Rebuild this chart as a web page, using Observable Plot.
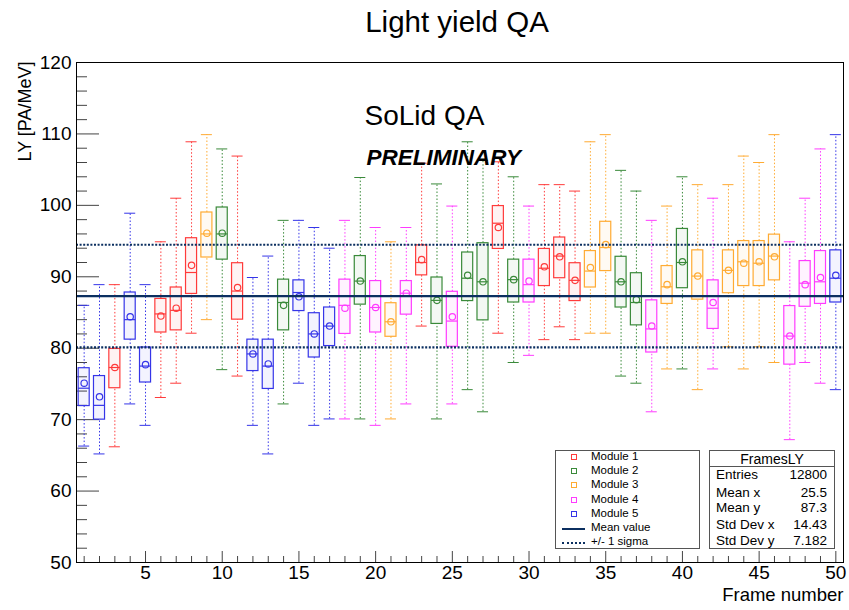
<!DOCTYPE html>
<html>
<head>
<meta charset="utf-8">
<script src="https://cdn.jsdelivr.net/npm/d3@7"></script>
<script src="https://cdn.jsdelivr.net/npm/@observablehq/plot@0.6"></script>
<style>
  html, body { margin: 0; padding: 0; background: #fff; }
  #wrap { position: relative; width: 849px; height: 610px; font-family: "Liberation Sans", Arial, sans-serif; }
  #wrap svg { position: absolute; left: 0; top: 0; }
  .box { position: absolute; background: #fff; border: 1px solid #555; box-sizing: border-box; }
  .row { position: absolute; white-space: nowrap; color: #000; }
</style>
</head>
<body>
<div id="wrap"></div>
<script>
// ---- data ----
const frames  = d3.range(1, 51);
const modules = [5,5,1,5,5,1,1,1,3,2, 1,5,5,2,5,5,5,4,2,4, 3,4,1,2,4,2,2,1,2,4, 1,1,1,3,3,2,2,4,3,2, 3,4,3,3,3,3,4,4,4,5];
const lowW    = [66.3,65.2,66.2,72.2,69.2,73.1,75.1,82.1,84.0,77.0, 76.1,69.2,65.2,72.2,75.1,69.2,70.1,70.1,70.1,69.2, 70.1,72.2,83.1,70.1,72.2,74.2,71.1,82.1,78.0,79.0, 81.2,83.0,81.2,82.1,82.1,76.1,75.1,71.1,77.1,77.1, 74.2,77.1,80.2,77.1,80.2,78.0,67.2,78.0,75.1,74.2];
const q1      = [71.9,70.0,74.4,81.2,75.2,82.2,82.5,87.6,92.7,92.4, 84.0,76.8,74.3,82.5,85.2,78.7,80.3,82.0,86.1,82.2, 81.6,84.7,90.2,83.4,80.2,86.6,83.9,93.9,86.4,86.4, 88.7,89.8,86.6,88.5,90.8,85.7,83.2,79.4,86.2,88.4, 86.8,82.7,87.7,88.7,88.7,89.5,77.7,85.8,86.2,86.4];
const median  = [74.4,72.0,77.3,84.0,77.5,84.8,85.3,90.6,96.0,96.0, 88.0,79.2,77.5,86.4,87.8,82.0,83.1,86.0,89.4,85.7, 83.7,87.7,92.0,86.7,83.8,89.8,89.3,97.5,89.6,88.9, 91.2,92.9,89.5,90.8,94.1,89.3,86.4,82.7,88.6,92.0, 90.1,85.6,90.9,92.1,91.9,92.9,81.7,89.1,89.3,89.8];
const q3      = [77.2,76.1,79.9,87.8,80.1,86.9,88.5,95.4,99.0,99.7, 91.9,81.2,81.2,89.6,89.5,84.9,85.7,89.6,92.9,89.4, 86.3,89.4,94.4,89.9,87.9,93.4,94.7,99.9,92.4,92.4, 93.9,95.5,91.9,93.6,97.7,92.8,90.5,86.7,91.5,96.7, 93.7,89.5,93.7,95.0,95.0,95.9,85.9,92.2,93.6,93.7];
const highW   = [86.0,88.9,88.9,98.9,88.9,94.9,101.0,108.9,109.9,107.9, 106.9,89.9,92.9,97.9,97.9,96.9,94.0,97.9,103.9,96.9, 94.9,96.9,105.9,103.0,99.9,108.9,106.3,106.1,104.0,99.9, 102.9,102.9,102.0,108.9,109.9,104.9,102.0,97.9,99.9,104.0, 102.9,101.0,102.9,106.9,106.0,109.9,94.9,101.0,107.9,109.9];
const meanV   = [75.1,73.2,77.3,84.4,77.7,84.5,85.6,91.6,96.1,96.1, 88.5,79.2,77.8,86.0,87.2,82.0,83.1,85.6,89.4,85.7, 83.7,87.7,92.4,86.7,84.4,90.2,89.3,96.9,89.6,89.4, 91.4,92.8,89.5,91.3,94.5,89.3,86.8,83.1,88.9,92.1, 90.1,86.4,90.9,91.9,92.1,92.8,81.7,88.9,89.9,90.2];
const moduleNames = ["Module 1","Module 2","Module 3","Module 4","Module 5"];
const meanY = 87.3;
const sigmaY = 7.182;
const yTickLabels = d3.range(50, 121, 10);
const xTickLabels = d3.range(5, 51, 5);
const statsLabels = ["Entries","Mean x","Mean y","Std Dev x","Std Dev y"];
const statsValues = ["12800","25.5","87.3","14.43","7.182"];

// ---- styles ----
const moduleColors = ["#ff3b3b","#3a8a3a","#ffab33","#ff3bff","#3535e8"];
const navy = "#0b2f60";
const font = "Liberation Sans, Arial, sans-serif";

const rows = frames.map((f, i) => ({
  frame: f, module: modules[i], color: moduleColors[modules[i]-1],
  low: lowW[i], q1: q1[i], med: median[i], q3: q3[i], high: highW[i], mean: meanV[i]
}));
const hw = 0.36; // half box width in frame units

const plot = Plot.plot({
  width: 849, height: 610,
  marginLeft: 76, marginRight: 6, marginTop: 62, marginBottom: 48,
  style: {fontFamily: font, background: "transparent", overflow: "visible"},
  x: {domain: [0.5, 50.5]},
  y: {domain: [50, 120]},
  marks: [
    // ticks inside the frame
    Plot.axisY({ticks: yTickLabels, tickSize: -23, tickFormat: () => "", label: null, stroke: "#444"}),
    Plot.axisY({ticks: d3.range(50, 121, 2).filter(v => v % 10), tickSize: -11, tickFormat: () => "", label: null, stroke: "#444"}),
    Plot.axisY({ticks: yTickLabels, tickSize: 0, tickPadding: 5, fontSize: 19, label: null, fill: "#000"}),
    Plot.axisX({ticks: xTickLabels, tickSize: -11, tickFormat: () => "", label: null, stroke: "#444"}),
    Plot.axisX({ticks: frames.filter(v => v % 5), tickSize: -6, tickFormat: () => "", label: null, stroke: "#444"}),
    Plot.axisX({ticks: xTickLabels, tickSize: 0, tickPadding: 3, fontSize: 19, label: null, fill: "#000"}),
    // whiskers
    Plot.ruleX(rows, {x: "frame", y1: "low", y2: "q1", stroke: "color", strokeDasharray: "1.5,2", strokeWidth: 1}),
    Plot.ruleX(rows, {x: "frame", y1: "q3", y2: "high", stroke: "color", strokeDasharray: "1.5,2", strokeWidth: 1}),
    Plot.ruleY(rows, {y: "low", x1: d => d.frame - hw, x2: d => d.frame + hw, stroke: "color", strokeWidth: 1}),
    Plot.ruleY(rows, {y: "high", x1: d => d.frame - hw, x2: d => d.frame + hw, stroke: "color", strokeWidth: 1}),
    // boxes
    Plot.rect(rows, {x1: d => d.frame - hw, x2: d => d.frame + hw, y1: "q1", y2: "q3", fill: "color", fillOpacity: 0.06, stroke: "color", strokeWidth: 1.2}),
    Plot.ruleY(rows, {y: "med", x1: d => d.frame - hw, x2: d => d.frame + hw, stroke: "color", strokeWidth: 1.2}),
    Plot.dot(rows, {x: "frame", y: "mean", r: 3.2, stroke: "color", strokeWidth: 1.2, fill: "none"}),
    // mean and sigma lines
    Plot.ruleY([meanY], {stroke: navy, strokeWidth: 2.2}),
    Plot.ruleY([meanY - sigmaY, meanY + sigmaY], {stroke: navy, strokeWidth: 2.2, strokeDasharray: "2,1.6"}),
    Plot.frame({stroke: "#000", strokeWidth: 1}),
    // texts
    Plot.text(["Light yield QA"], {frameAnchor: "top", dx: -3, dy: -51, fontSize: 29.5, fill: "#000"}),
    Plot.text(["SoLid QA"], {frameAnchor: "top-left", textAnchor: "start", dx: 288, dy: 43, fontSize: 28, fill: "#000"}),
    Plot.text(["PRELIMINARY"], {frameAnchor: "top-left", textAnchor: "start", dx: 290, dy: 87, fontSize: 22.5, fontWeight: "bold", fontStyle: "italic", fill: "#000"}),
    Plot.text(["LY [PA/MeV]"], {frameAnchor: "top-left", textAnchor: "end", rotate: -90, dx: -58, dy: -1, fontSize: 18, fill: "#000"}),
    Plot.text(["Frame number"], {frameAnchor: "bottom-right", textAnchor: "end", dy: 38, fontSize: 18.5, fill: "#000"})
  ]
});

const wrap = document.getElementById("wrap");
wrap.appendChild(plot);

// Legend box
const leg = document.createElement("div");
leg.className = "box";
Object.assign(leg.style, {left: "555px", top: "450px", width: "145px", height: "99px"});
wrap.appendChild(leg);
const legRows = [];
moduleNames.forEach((name, i) => legRows.push({label: name, kind: "sq", color: moduleColors[i]}));
legRows.push({label: "Mean value", kind: "line"});
legRows.push({label: "+/- 1 sigma", kind: "dot"});
legRows.forEach((r, i) => {
  const top = 5 + i * 14.2;
  const t = document.createElement("div");
  t.className = "row";
  Object.assign(t.style, {left: "35px", top: (top - 6) + "px", fontSize: "11.5px", lineHeight: "13px"});
  t.textContent = r.label;
  leg.appendChild(t);
  const m = document.createElement("div");
  m.style.position = "absolute";
  if (r.kind === "sq") {
    Object.assign(m.style, {left: "15px", top: (top - 2) + "px", width: "4px", height: "4px", borderWidth: "1px", borderStyle: "solid", borderColor: r.color, boxSizing: "content-box"});
  } else if (r.kind === "line") {
    Object.assign(m.style, {left: "6px", top: (top + 1) + "px", width: "23px", height: "0", borderTop: "2px solid " + navy});
  } else {
    Object.assign(m.style, {left: "6px", top: (top + 1) + "px", width: "23px", height: "0", borderTop: "2px dotted " + navy});
  }
  leg.appendChild(m);
});

// Stats box
const st = document.createElement("div");
st.className = "box";
Object.assign(st.style, {left: "709px", top: "450px", width: "126px", height: "99px"});
wrap.appendChild(st);
const head = document.createElement("div");
head.className = "row";
Object.assign(head.style, {left: "0", width: "124px", textAlign: "center", top: "1px", fontSize: "14px", lineHeight: "15px"});
head.textContent = "FramesLY";
st.appendChild(head);
const sep = document.createElement("div");
Object.assign(sep.style, {position: "absolute", left: "0", top: "15px", width: "124px", borderTop: "1px solid #555"});
st.appendChild(sep);
const rowTops = [24, 42, 57, 74, 90];
statsLabels.forEach((lab, i) => {
  const a = document.createElement("div");
  a.className = "row";
  Object.assign(a.style, {left: "6px", top: (rowTops[i] - 8) + "px", fontSize: "13.5px", lineHeight: "15px"});
  a.textContent = lab;
  st.appendChild(a);
  const b = document.createElement("div");
  b.className = "row";
  Object.assign(b.style, {right: "7px", top: (rowTops[i] - 8) + "px", fontSize: "13.5px", lineHeight: "15px", textAlign: "right"});
  b.textContent = statsValues[i];
  st.appendChild(b);
});
</script>
</body>
</html>
